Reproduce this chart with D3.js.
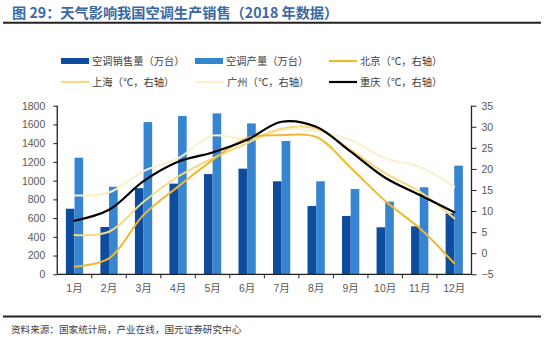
<!DOCTYPE html>
<html>
<head>
<meta charset="utf-8">
<script src="https://cdn.jsdelivr.net/npm/d3@7/dist/d3.min.js"></script>
<style>
  body { margin: 0; background: #fff; }
  text { font-family: "Liberation Sans", Arial, "Noto Sans CJK SC", sans-serif; }
  .cjk { font-family: "Noto Sans CJK SC", sans-serif; }
</style>
</head>
<body>
<svg id="chart" width="550" height="342"></svg>
<script>
// data
var months = ["1月","2月","3月","4月","5月","6月","7月","8月","9月","10月","11月","12月"];
var sales = [700, 505, 920, 968, 1070, 1128, 993, 729, 623, 502, 512, 650];        // 空调销售量（万台）
var production = [1245, 935, 1625, 1690, 1718, 1611, 1423, 993, 911, 776, 929, 1160]; // 空调产量（万台）
var beijing = [-3.2, -1.2, 9.1, 15.8, 22.1, 27.3, 28, 27.6, 20.3, 12.4, 5.9, -2.4];
var shanghai = [4.3, 5.1, 12.2, 18.2, 22.5, 26.1, 29.6, 29.6, 24.5, 19, 14.6, 8.3];
var guangzhou = [13.7, 14.4, 19.5, 22.5, 27.9, 27, 29.3, 29, 26.8, 22.5, 20.5, 15.8];
var chongqing = [7.7, 10.3, 17.1, 21.7, 23.9, 26.9, 31.2, 30, 24.1, 17.9, 13.8, 9.7];
var leftTicks = [0, 200, 400, 600, 800, 1000, 1200, 1400, 1600, 1800];
var rightTicks = [-5, 0, 5, 10, 15, 20, 25, 30, 35];

var svg = d3.select("#chart");

var colSales = "#0e4c9d",
    colProd = "#3785d0",
    colBJ = "#f0b82c",
    colSH = "#f6d97e",
    colGZ = "#fbefcc",
    colCQ = "#000000",
    textGray = "#595959";

var plotLeft = 57.25, plotRight = 471.5, plotTop = 105.7, plotBottom = 274.3;

var x = d3.scaleBand().domain(months).range([plotLeft, plotRight]);
var bw = x.bandwidth();
var yL = d3.scaleLinear().domain([0, 1800]).range([plotBottom, plotTop]);
var yR = d3.scaleLinear().domain([-5, 35]).range([plotBottom, plotTop]);

// title
svg.append("text")
    .attr("class", "cjk")
    .attr("x", 12)
    .attr("y", 17.5)
    .attr("font-size", 14.2)
    .attr("font-weight", "bold")
    .attr("fill", "#3a68a6")
    .text("图 29：天气影响我国空调生产销售（2018 年数据）");

svg.append("line")
    .attr("x1", 3).attr("x2", 541)
    .attr("y1", 22.7).attr("y2", 22.7)
    .attr("stroke", "#222").attr("stroke-width", 2);

// legend
var legendItems = [
  {name: "空调销售量（万台）", type: "rect", color: colSales, x: 61, y: 61},
  {name: "空调产量（万台）", type: "rect", color: colProd, x: 195, y: 61},
  {name: "北京（℃，右轴）", type: "line", color: colBJ, x: 329, y: 61},
  {name: "上海（℃，右轴）", type: "line", color: colSH, x: 61, y: 82},
  {name: "广州（℃，右轴）", type: "line", color: colGZ, x: 196, y: 82},
  {name: "重庆（℃，右轴）", type: "line", color: colCQ, x: 329, y: 82}
];

var legend = svg.append("g");
legendItems.forEach(function(d){
    if (d.type === "rect") {
        legend.append("rect")
            .attr("x", d.x).attr("y", d.y - 3)
            .attr("width", 28).attr("height", 6)
            .attr("fill", d.color);
    } else {
        legend.append("line")
            .attr("x1", d.x).attr("x2", d.x + 28)
            .attr("y1", d.y).attr("y2", d.y)
            .attr("stroke", d.color).attr("stroke-width", 2.2);
    }
    legend.append("text")
        .attr("class", "cjk")
        .attr("x", d.x + 31)
        .attr("y", d.y + 3.6)
        .attr("font-size", 10.3)
        .attr("fill", "#404040")
        .text(d.name);
});

// bars
var inner = d3.scaleBand().domain(["sales", "prod"]).range([bw * 0.25, bw * 0.75]);

svg.append("g").selectAll("rect")
    .data(months)
    .enter().append("rect")
    .attr("x", function(d){ return x(d) + inner("sales"); })
    .attr("y", function(d, i){ return yL(sales[i]); })
    .attr("width", inner.bandwidth())
    .attr("height", function(d, i){ return yL(0) - yL(sales[i]); })
    .attr("fill", colSales);

svg.append("g").selectAll("rect")
    .data(months)
    .enter().append("rect")
    .attr("x", function(d){ return x(d) + inner("prod"); })
    .attr("y", function(d, i){ return yL(production[i]); })
    .attr("width", inner.bandwidth())
    .attr("height", function(d, i){ return yL(0) - yL(production[i]); })
    .attr("fill", colProd);

// temperature lines
var line = d3.line()
    .x(function(d, i){ return x(months[i]) + bw / 2; })
    .y(function(d){ return yR(d); })
    .curve(d3.curveCatmullRom.alpha(0.5));

[[guangzhou, colGZ, 2], [shanghai, colSH, 2], [beijing, colBJ, 2], [chongqing, colCQ, 2.2]].forEach(function(s){
    svg.append("path")
        .datum(s[0])
        .attr("d", line)
        .attr("fill", "none")
        .attr("stroke", s[1])
        .attr("stroke-width", s[2])
        .attr("stroke-linecap", "round");
});

// axes
var axisColor = "#222";

var gL = svg.append("g")
    .attr("transform", "translate(" + plotLeft + ",0)")
    .call(d3.axisLeft(yL).tickValues(leftTicks).tickFormat(d3.format("d")).tickSize(4).tickPadding(8));

var gR = svg.append("g")
    .attr("transform", "translate(" + plotRight + ",0)")
    .call(d3.axisRight(yR).tickValues(rightTicks).tickFormat(d3.format("d")).tickSize(5).tickPadding(5));

var gB = svg.append("g")
    .attr("transform", "translate(0," + plotBottom + ")")
    .call(d3.axisBottom(x).tickSize(0).tickPadding(10));

// category tick marks sit on band boundaries
gB.selectAll(".bound")
    .data(months.slice(1))
    .enter().append("line")
    .attr("class", "bound")
    .attr("x1", function(d){ return x(d); })
    .attr("x2", function(d){ return x(d); })
    .attr("y1", 0).attr("y2", 4)
    .attr("stroke", axisColor);

[gL, gR, gB].forEach(function(g){
    g.select(".domain").attr("stroke", axisColor).attr("stroke-width", 1.3);
    g.selectAll(".tick line").attr("stroke", axisColor);
    g.selectAll(".tick text")
        .attr("font-size", 10.5)
        .attr("fill", textGray)
        .attr("font-family", "Liberation Sans, Arial, Noto Sans CJK SC, sans-serif");
});
gL.select(".domain").attr("d", "M0," + plotTop + "V" + plotBottom);
gR.select(".domain").attr("d", "M0," + plotTop + "V" + plotBottom);
gB.select(".domain").attr("d", "M" + plotLeft + ",0H" + plotRight);

// source
svg.append("line")
    .attr("x1", 3).attr("x2", 541)
    .attr("y1", 316.5).attr("y2", 316.5)
    .attr("stroke", "#222").attr("stroke-width", 1.8);

svg.append("text")
    .attr("class", "cjk")
    .attr("x", 11)
    .attr("y", 332.5)
    .attr("font-size", 9.6)
    .attr("fill", "#404040")
    .text("资料来源：国家统计局，产业在线，国元证券研究中心");
</script>
</body>
</html>
